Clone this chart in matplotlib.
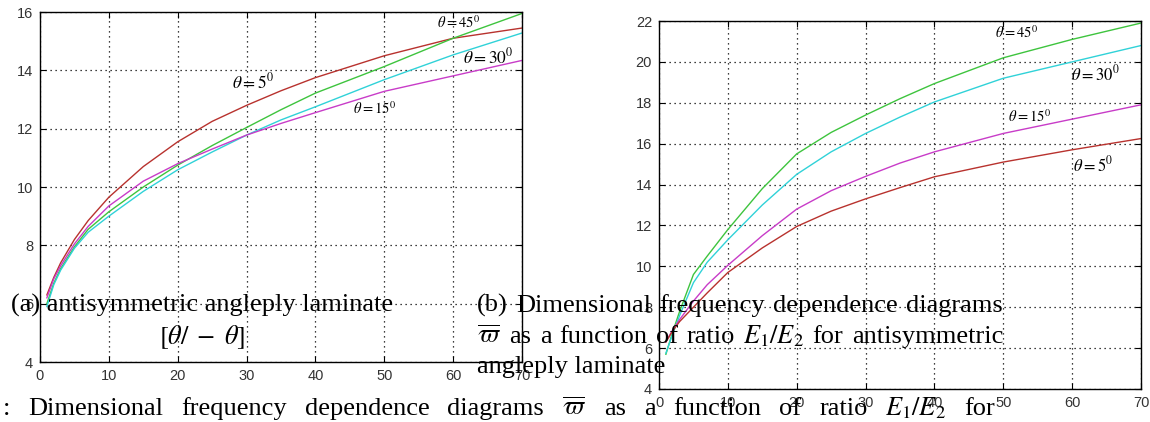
import matplotlib
matplotlib.use("Agg")
import matplotlib.pyplot as plt

plt.rcParams["mathtext.fontset"] = "stix"

W, H = 1150, 422
SERIF = ["Liberation Serif", "DejaVu Serif"]
SANS = ["Liberation Sans", "DejaVu Sans"]

# left panel (a): frequency vs E1/E2
x_a = [1, 2, 3, 5, 7, 10, 15, 20, 25, 30, 35, 40, 50, 60, 70]
a_t5 = [6.3, 6.9, 7.4, 8.2, 8.85, 9.65, 10.7, 11.55, 12.25, 12.8, 13.3, 13.75, 14.5, 15.1, 15.45]
a_t15 = [6.2, 6.85, 7.3, 8.05, 8.65, 9.35, 10.2, 10.8, 11.3, 11.78, 12.18, 12.55, 13.28, 13.81, 14.34]
a_t45 = [6.0, 6.7, 7.2, 7.95, 8.55, 9.15, 10.0, 10.75, 11.42, 12.04, 12.65, 13.22, 14.13, 15.1, 15.95]
a_t30 = [5.9, 6.65, 7.15, 7.9, 8.45, 9.0, 9.85, 10.59, 11.2, 11.78, 12.3, 12.75, 13.68, 14.53, 15.28]

# right panel (b)
x_b = [1, 2, 3, 5, 7, 10, 15, 20, 25, 30, 35, 40, 50, 60, 70]
b_t5 = [6.3, 6.85, 7.3, 8.0, 8.7, 9.7, 10.9, 11.95, 12.7, 13.3, 13.85, 14.38, 15.1, 15.7, 16.25]
b_t15 = [6.3, 6.9, 7.4, 8.3, 9.1, 10.05, 11.5, 12.8, 13.7, 14.4, 15.05, 15.6, 16.5, 17.2, 17.9]
b_t30 = [5.75, 6.7, 7.6, 9.2, 10.2, 11.3, 13.0, 14.5, 15.6, 16.5, 17.3, 18.04, 19.2, 20.0, 20.8]
b_t45 = [5.7, 6.8, 7.8, 9.6, 10.5, 11.8, 13.8, 15.5, 16.55, 17.4, 18.2, 18.94, 20.2, 21.1, 21.9]

xticks = [0, 10, 20, 30, 40, 50, 60, 70]
yticks_a = [4, 6, 8, 10, 12, 14, 16]
yticks_b = [4, 6, 8, 10, 12, 14, 16, 18, 20, 22]

RED, MAG, GRN, CYN = "#b8322e", "#c83cc8", "#3ec43e", "#30d2d8"

fig = plt.figure(figsize=(W / 100, H / 100), dpi=100)
fig.patch.set_facecolor("white")


def px_axes(x0, y0, x1, y1):
    return fig.add_axes([x0 / W, 1 - y1 / H, (x1 - x0) / W, (y1 - y0) / H])


def style(ax, yt, ymax):
    ax.set_xlim(0, 70)
    ax.set_ylim(4, ymax)
    ax.set_xticks(xticks)
    ax.set_yticks(yt)
    ax.grid(True, color="black", linestyle=(0, (1, 3)), linewidth=0.9)
    ax.tick_params(direction="in", top=True, right=True, length=4, width=0.8,
                   labelsize=10.5, labelcolor="#333333", pad=5)
    for lab in ax.get_xticklabels() + ax.get_yticklabels():
        lab.set_family(SANS)
    for s in ax.spines.values():
        s.set_linewidth(1.0)


ax1 = px_axes(40, 12, 522, 362)
ax1.plot(x_a, a_t5, color=RED, lw=1.0)
ax1.plot(x_a, a_t45, color=GRN, lw=1.0)
ax1.plot(x_a, a_t30, color=CYN, lw=1.0)
ax1.plot(x_a, a_t15, color=MAG, lw=1.0)
style(ax1, yticks_a, 16)
ax1.text(27.9, 13.57, r"$\theta = 5^0$", fontsize=12.5, va="center")
ax1.text(57.7, 15.64, r"$\theta = 45^0$", fontsize=10.5, va="center")
ax1.text(61.5, 14.45, r"$\theta = 30^0$", fontsize=12.5, va="center")
ax1.text(45.5, 12.67, r"$\theta = 15^0$", fontsize=10.5, va="center")

ax2 = px_axes(659, 21, 1141, 389)
ax2.plot(x_b, b_t45, color=GRN, lw=1.0)
ax2.plot(x_b, b_t30, color=CYN, lw=1.0)
ax2.plot(x_b, b_t15, color=MAG, lw=1.0)
ax2.plot(x_b, b_t5, color=RED, lw=1.0)
style(ax2, yticks_b, 22)
ax2.text(48.8, 21.41, r"$\theta = 45^0$", fontsize=10.5, va="center")
ax2.text(59.9, 19.4, r"$\theta = 30^0$", fontsize=12, va="center")
ax2.text(50.7, 17.31, r"$\theta = 15^0$", fontsize=10.5, va="center")
ax2.text(60.1, 14.95, r"$\theta = 5^0$", fontsize=12, va="center")

# captions drawn over the plots
CAP = 19
renderer = fig.canvas.get_renderer()


def caption(s, x, y, ha="left"):
    return fig.text(x / W, 1 - y / H, s, fontsize=CAP, family=SERIF, ha=ha, va="baseline")


def justified(words, x0, x1, y):
    arts = [caption(w, 0, y) for w in words]
    widths = [a.get_window_extent(renderer).width for a in arts]
    gap = (x1 - x0 - sum(widths)) / (len(words) - 1)
    x = x0
    for a, wd in zip(arts, widths):
        a.set_x(x / W)
        x += wd + gap


caption("(a) antisymmetric angleply laminate", 202, 312, ha="center")
caption(r"$[\theta/\;-\;\theta]$", 202, 344, ha="center")

justified(["(b)", "Dimensional", "frequency", "dependence", "diagrams"], 477, 1003, 312)
justified([r"$\overline{\varpi}$", "as", "a", "function", "of", "ratio", r"$E_1/E_2$",
           "for", "antisymmetric"], 477, 1003, 343)
caption("angleply laminate", 477, 373)

justified([":", "Dimensional", "frequency", "dependence", "diagrams", r"$\overline{\varpi}$",
           "as", "a", "function", "of", "ratio", r"$E_1/E_2$", "for"], 3, 995, 415)

fig.savefig("out.png", dpi=100)
